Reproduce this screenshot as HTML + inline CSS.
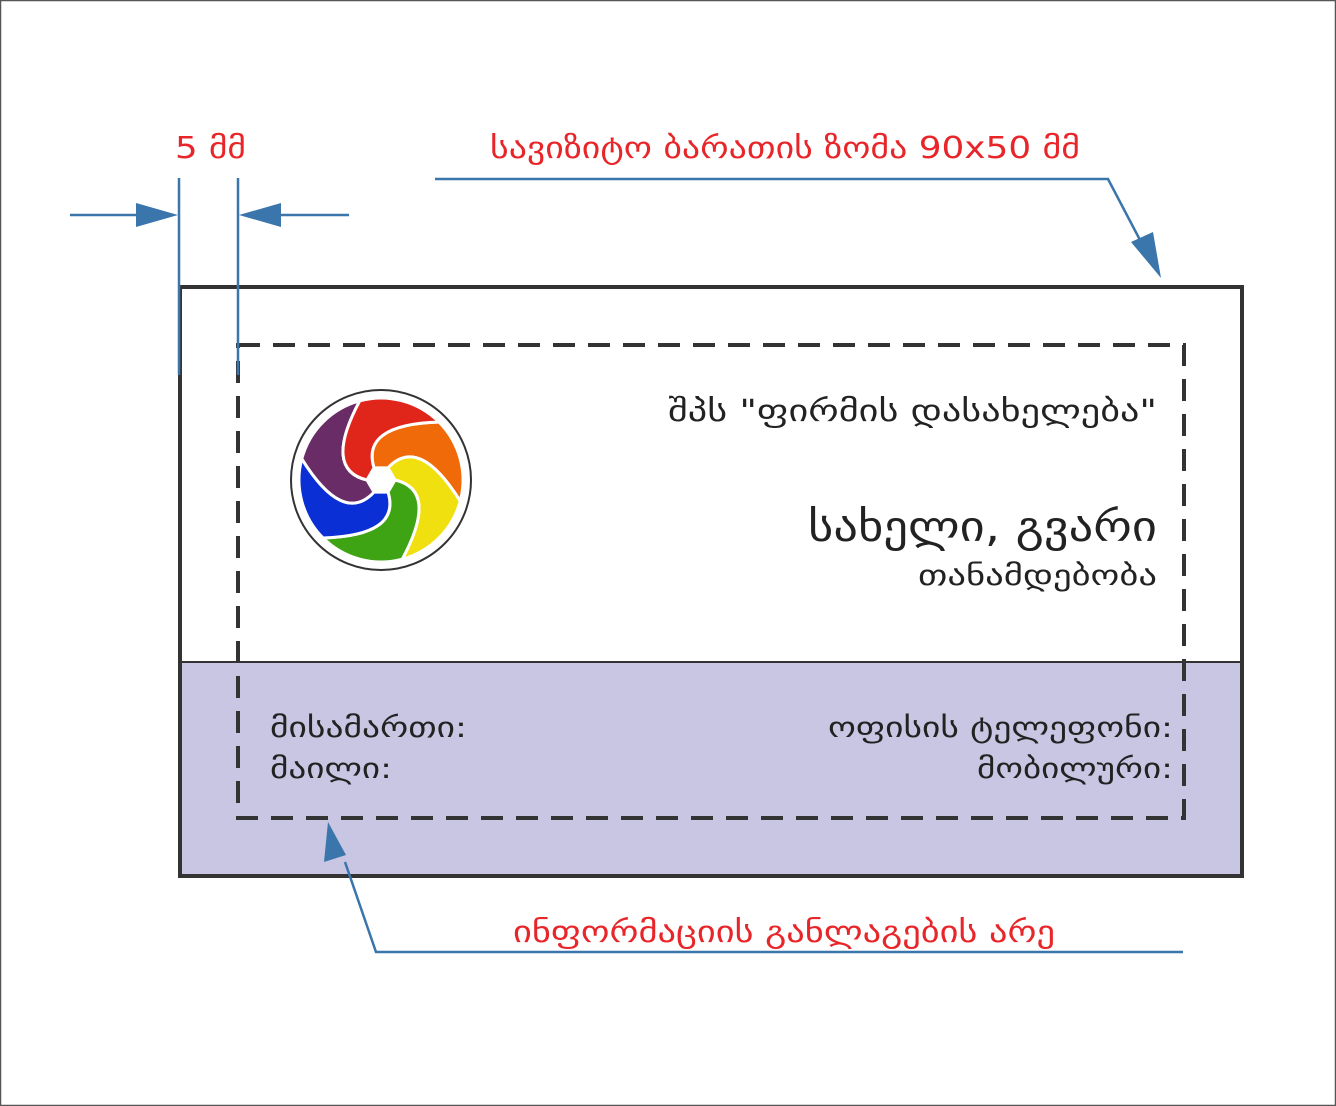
<!DOCTYPE html>
<html><head><meta charset="utf-8"><style>
html,body{margin:0;padding:0;background:#fff}
svg{display:block}
text{font-family:"DejaVu Sans","Liberation Sans",sans-serif}
</style></head><body>
<svg id="s" width="1336" height="1106" viewBox="0 0 1336 1106" xmlns="http://www.w3.org/2000/svg">
<rect x="0.5" y="0.5" width="1335" height="1105" fill="#fff" stroke="#555" stroke-width="1.5"/>
<!-- card -->
<rect x="180" y="662" width="1062" height="214" fill="#c8c6e2"/>
<line x1="180" y1="662" x2="1242" y2="662" stroke="#333" stroke-width="2"/>
<rect x="180" y="287" width="1062" height="589" fill="none" stroke="#333" stroke-width="4"/>
<rect x="238" y="345" width="946" height="473" fill="none" stroke="#333" stroke-width="4" stroke-dasharray="22 13"/>
<!-- dimension lines -->
<g stroke="#3a75ab" stroke-width="2.5" fill="none">
<line x1="179" y1="178" x2="179" y2="375"/>
<line x1="238" y1="178" x2="238" y2="375"/>
<line x1="70" y1="215" x2="140" y2="215"/>
<line x1="280" y1="215" x2="349" y2="215"/>
<polyline points="435,179 1108,179 1140,240"/>
<polyline points="1183,952 376,952 345,862"/>
</g>
<g fill="#3a75ab">
<polygon points="178,215 136,203 136,227"/>
<polygon points="239,215 281,203 281,227"/>
<polygon points="1161,278 1131,242 1153,232"/>
<polygon points="328,822 324,862 346,855"/>
</g>
<!-- logo -->
<circle cx="381" cy="480" r="90" fill="#fff" stroke="#333" stroke-width="2"/>
<g id="logo"></g>
<!-- texts -->
<g fill="#e8262a" font-size="30">
<text x="175" y="158" textLength="71" lengthAdjust="spacingAndGlyphs">5 მმ</text>
<text x="490" y="158" textLength="590" lengthAdjust="spacingAndGlyphs">სავიზიტო ბარათის ზომა 90x50 მმ</text>
<text x="513" y="942" textLength="542" lengthAdjust="spacingAndGlyphs">ინფორმაციის განლაგების არე</text>
</g>
<g fill="#222">
<text x="668" y="421" font-size="30" textLength="489" lengthAdjust="spacingAndGlyphs">შპს "ფირმის დასახელება"</text>
<text x="808" y="541" font-size="42" textLength="349" lengthAdjust="spacingAndGlyphs">სახელი, გვარი</text>
<text x="918" y="585" font-size="28" textLength="239" lengthAdjust="spacingAndGlyphs">თანამდებობა</text>
<text x="270" y="737" font-size="28" textLength="197" lengthAdjust="spacingAndGlyphs">მისამართი:</text>
<text x="270" y="778" font-size="28" textLength="122" lengthAdjust="spacingAndGlyphs">მაილი:</text>
<text x="828" y="737" font-size="28" textLength="345" lengthAdjust="spacingAndGlyphs">ოფისის ტელეფონი:</text>
<text x="977" y="778" font-size="28" textLength="196" lengthAdjust="spacingAndGlyphs">მობილური:</text>
</g>
</svg>
<script>
(function(){
var cx=381,cy=480,R=82,r0=14,g=document.getElementById('logo');
var cols=['#f06a0a','#f0e010','#3fa414','#0a2fd4','#6a2c66','#e0251b'];
function P(r,a){a=a*Math.PI/180;return [cx+r*Math.cos(a),cy+r*Math.sin(a)];}
function edge(t){var s=P(r0,t),e=P(R,t+75),c=P(R*0.72,t+10);return [s,c,e];}
for(var i=0;i<6;i++){
 var t=-120+i*60;
 var e1=edge(t),e2=edge(t+60);
 var d='M'+e1[0]+' Q'+e1[1]+' '+e1[2]+' A'+R+' '+R+' 0 0 1 '+e2[2]+' Q'+e2[1]+' '+e2[0]+' Z';
 var p=document.createElementNS('http://www.w3.org/2000/svg','path');
 p.setAttribute('d',d.replace(/,/g,' '));p.setAttribute('fill',cols[i]);
 p.setAttribute('stroke','#fff');p.setAttribute('stroke-width','3');
 g.appendChild(p);
}
})();
</script>
</body></html>
